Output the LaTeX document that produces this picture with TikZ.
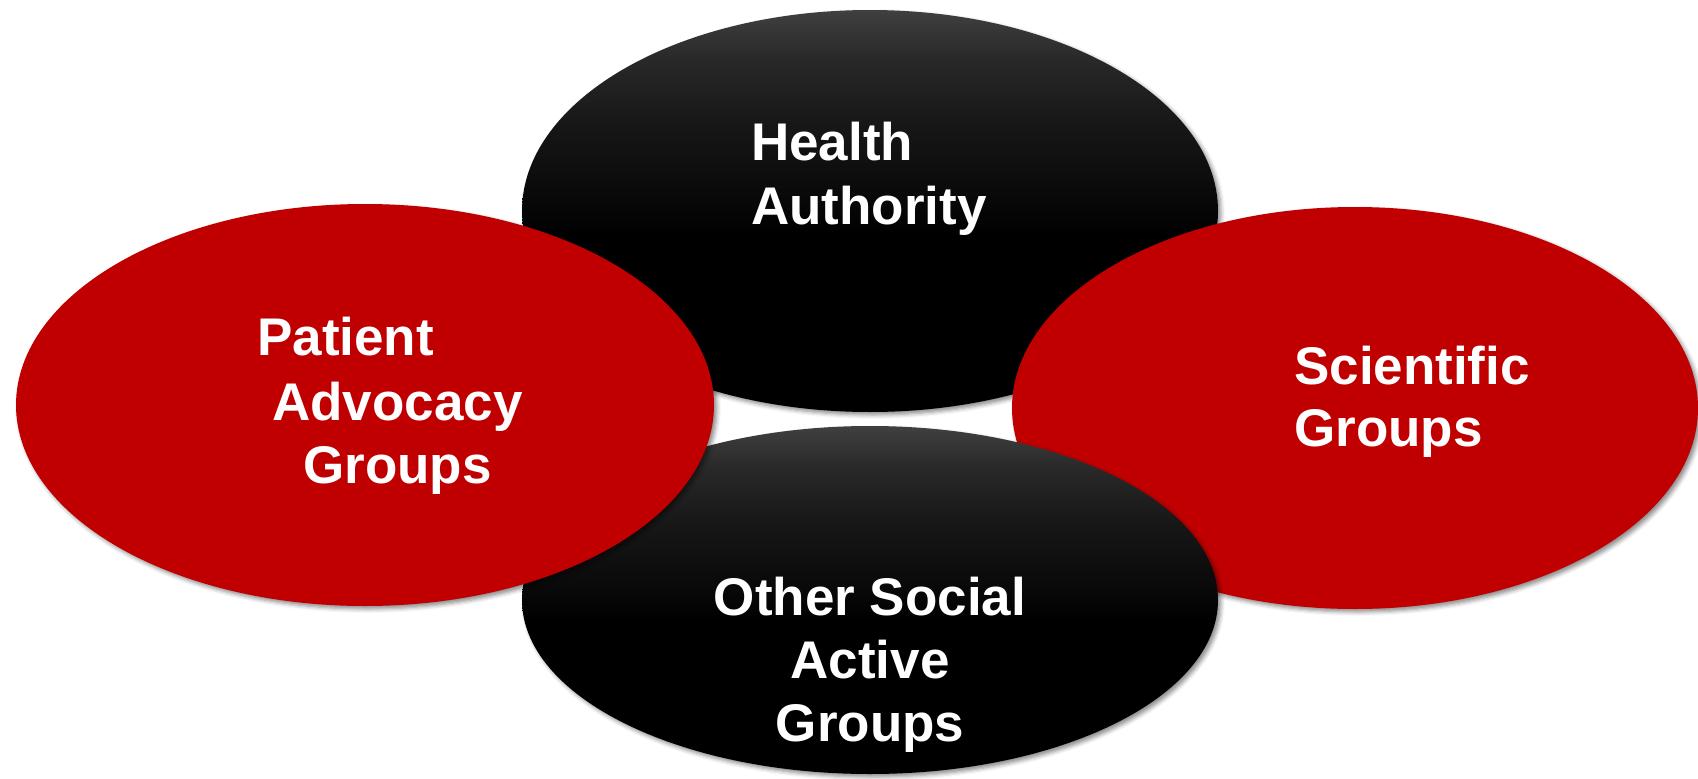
\documentclass[tikz,border=0pt]{standalone}
\usepackage{fontspec}
\setmainfont{Liberation Sans}
\usetikzlibrary{shapes.geometric,shadows.blur}
\definecolor{ovred}{HTML}{C00000}
\pgfdeclareverticalshading{blkgrad}{100bp}{color(0bp)=(black); color(47bp)=(black); color(51bp)=(black!97); color(61bp)=(black!91); color(69bp)=(black!84); color(75bp)=(black!75); color(100bp)=(black!75)}
\begin{document}
\begin{tikzpicture}[x=1pt,y=-1pt,
  ov/.style={ellipse, inner sep=0pt, draw=none,
    blur shadow={shadow xshift=3pt, shadow yshift=-3pt, shadow blur radius=4pt, shadow opacity=45}},
  blackov/.style={ov, shading=blkgrad},
  redov/.style={ov, fill=ovred},
  lbl/.style={text=white, font=\fontsize{53}{64}\selectfont\bfseries, inner sep=0pt}]
\useasboundingbox (0,0) rectangle (1698,779);
% top black
\node[blackov, minimum width=696pt, minimum height=402pt] (ha) at (870,211) {};
% right red
\node[redov, minimum width=686pt, minimum height=402pt] (sg) at (1355,408) {};
% bottom black
\node[blackov, minimum width=696pt, minimum height=348pt] (os) at (870,600) {};
% left red
\node[redov, minimum width=698pt, minimum height=402pt] (pa) at (365,405) {};
% labels
\node[lbl, anchor=base west] (ha1) at (751,160) {Health};
\node[lbl, anchor=base west] (ha2) at (751,224) {Authority};
\node[lbl, anchor=base west] (pa1) at (257,355) {Patient};
\node[lbl, anchor=base west] (pa2) at (272,420) {Advocacy};
\node[lbl, anchor=base west] (pa3) at (303,483) {Groups};
\node[lbl, anchor=base west] (sg1) at (1294,384) {Scientific};
\node[lbl, anchor=base west] (sg2) at (1294,446) {Groups};
\node[lbl, anchor=base] (os1) at (870,615) {Other Social};
\node[lbl, anchor=base] (os2) at (870,678) {Active};
\node[lbl, anchor=base] (os3) at (870,741) {Groups};
\end{tikzpicture}
\end{document}
